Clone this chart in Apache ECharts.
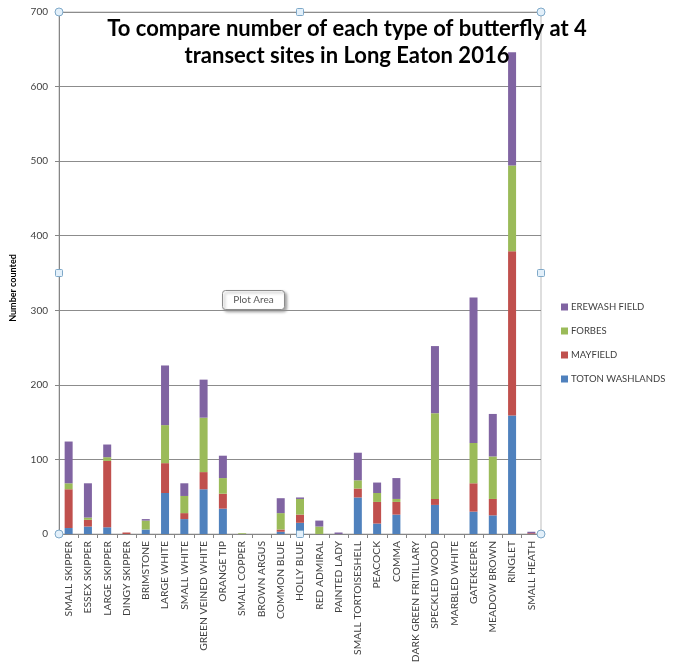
<!DOCTYPE html>
<html>
<head>
<meta charset="utf-8">
<script src="https://cdn.jsdelivr.net/npm/echarts@6/dist/echarts.min.js"></script>
<style>
  html, body { margin: 0; padding: 0; background: #fff; }
  #chart { width: 681px; height: 670px; }
</style>
</head>
<body>
<div id="chart"></div>
<script>
// Butterfly species recorded along the transects
const species = [
  'SMALL SKIPPER', 'ESSEX SKIPPER', 'LARGE SKIPPER', 'DINGY SKIPPER', 'BRIMSTONE',
  'LARGE WHITE', 'SMALL WHITE', 'GREEN VEINED WHITE', 'ORANGE TIP', 'SMALL COPPER',
  'BROWN ARGUS', 'COMMON BLUE', 'HOLLY BLUE', 'RED ADMIRAL', 'PAINTED LADY',
  'SMALL TORTOISESHELL', 'PEACOCK', 'COMMA', 'DARK GREEN FRITILLARY', 'SPECKLED WOOD',
  'MARBLED WHITE', 'GATEKEEPER', 'MEADOW BROWN', 'RINGLET', 'SMALL HEATH'
];

// Counts per site (same order as species)
const totonWashlands = [8, 10, 9, 0, 6, 55, 20, 60, 34, 0, 0, 3, 15, 0, 0, 49, 14, 26, 0, 39, 0, 30, 25, 159, 0];
const mayfield       = [52, 9, 89, 2, 0, 40, 8, 23, 20, 0, 0, 3, 11, 0, 0, 12, 29, 17, 0, 8, 0, 38, 22, 220, 1];
const forbes         = [8, 3, 5, 0, 12, 51, 23, 73, 21, 1, 0, 22, 21, 10, 0, 11, 12, 4, 0, 115, 0, 54, 57, 115, 0];
const erewashField   = [56, 46, 17, 0, 2, 80, 17, 51, 30, 0, 0, 20, 2, 8, 2, 37, 14, 28, 0, 90, 0, 195, 57, 152, 2];

const yTicks = { min: 0, max: 700, interval: 100 };

const FONT = 'Lato, "Open Sans", sans-serif';

const siteSeries = [
  { name: 'TOTON WASHLANDS', data: totonWashlands, color: '#4F81BD' },
  { name: 'MAYFIELD', data: mayfield, color: '#C0504D' },
  { name: 'FORBES', data: forbes, color: '#9BBB59' },
  { name: 'EREWASH FIELD', data: erewashField, color: '#8064A2' }
];

const chart = echarts.init(document.getElementById('chart'), null, { renderer: 'canvas' });

// Selection handles around the plot area frame
const L = 59, T = 12, R = 541, B = 534;
const handles = [];
[[L, T], [R, T], [L, B], [R, B]].forEach(([x, y]) => handles.push({
  type: 'circle', shape: { cx: x, cy: y, r: 4 }, z: 100,
  style: { fill: '#E3F0FA', stroke: '#7FA9C9', lineWidth: 1 }
}));
[[(L + R) / 2, T], [L, (T + B) / 2], [R, (T + B) / 2], [(L + R) / 2, B]].forEach(([x, y]) => handles.push({
  type: 'rect', shape: { x: x - 3.5, y: y - 3.5, width: 7, height: 7, r: 1 }, z: 100,
  style: { fill: '#E3F0FA', stroke: '#7FA9C9', lineWidth: 1 }
}));

chart.setOption({
  animation: false,
  backgroundColor: '#fff',
  textStyle: { fontFamily: FONT },
  title: {
    text: 'To compare number of each type of butterfly at 4\ntransect sites in Long Eaton 2016',
    left: 342, top: 10, textAlign: 'center',
    textStyle: { fontFamily: FONT, fontSize: 22, fontWeight: 'bold', color: '#000', lineHeight: 27 }
  },
  legend: {
    orient: 'vertical',
    left: 556, top: 297,
    itemWidth: 7, itemHeight: 7, itemGap: 14,
    icon: 'rect',
    data: ['EREWASH FIELD', 'FORBES', 'MAYFIELD', 'TOTON WASHLANDS'],
    textStyle: { fontFamily: FONT, fontSize: 9.5, color: '#404040', padding: [0, 0, 0, -2] }
  },
  grid: {
    left: L, top: T, right: 681 - R, bottom: 670 - B,
    show: true, borderColor: '#BDBDBD', borderWidth: 1, containLabel: false
  },
  xAxis: {
    type: 'category',
    data: species,
    axisLine: { lineStyle: { color: '#868686' } },
    axisTick: { show: true, length: 4, lineStyle: { color: '#868686' } },
    axisLabel: {
      interval: 0, rotate: 90, margin: 7,
      fontFamily: FONT, fontSize: 10.3, color: '#404040'
    }
  },
  yAxis: {
    type: 'value',
    min: yTicks.min, max: yTicks.max, interval: yTicks.interval,
    name: 'Number counted',
    nameLocation: 'middle', nameGap: 41, nameRotate: 90,
    nameTextStyle: { fontFamily: FONT, fontSize: 9, fontWeight: 'bold', color: '#000', padding: [0, 30, 0, 0] },
    axisLine: { show: true, lineStyle: { color: '#868686' } },
    axisTick: { show: true, length: 4, inside: false, lineStyle: { color: '#868686' } },
    axisLabel: { fontFamily: FONT, fontSize: 10, color: '#404040', margin: 11 },
    splitLine: { lineStyle: { color: '#8C8C8C', width: 1 } }
  },
  series: siteSeries.map(s => ({
    name: s.name,
    type: 'bar',
    stack: 'sites',
    data: s.data,
    barWidth: 8,
    itemStyle: { color: s.color }
  })),
  graphic: [
    ...handles,
    {
      type: 'group', left: 222, top: 290, z: 90,
      children: [
        {
          type: 'rect', shape: { x: 0, y: 0, width: 62, height: 19, r: 3 },
          style: { fill: '#FFFFFF', stroke: '#8C8C8C', lineWidth: 1,
                   shadowColor: 'rgba(0,0,0,0.35)', shadowBlur: 3, shadowOffsetX: 2, shadowOffsetY: 2 }
        },
        {
          type: 'text', x: 31, y: 9.5,
          style: { text: 'Plot Area', fontFamily: FONT, fontSize: 10, fill: '#595959',
                   align: 'center', verticalAlign: 'middle' }
        }
      ]
    }
  ]
});
</script>
</body>
</html>
